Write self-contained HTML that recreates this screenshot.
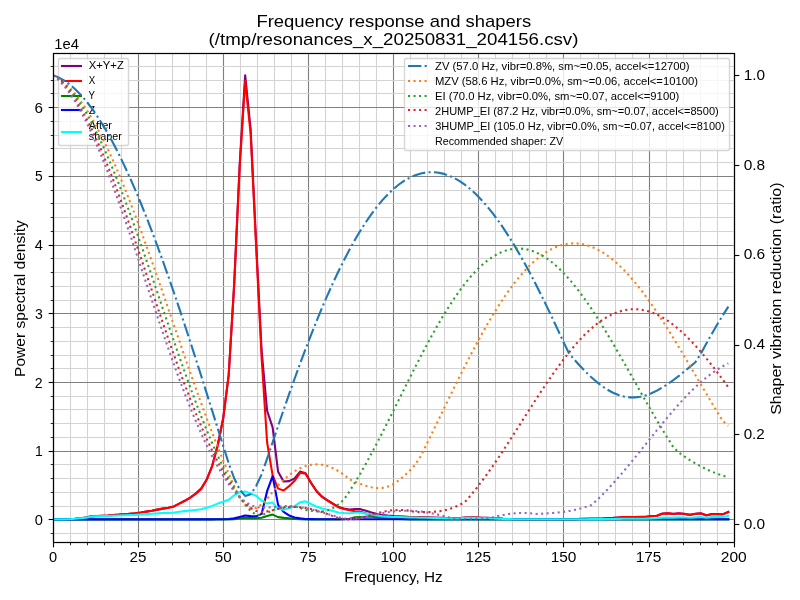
<!DOCTYPE html>
<html lang="en"><head><meta charset="utf-8"><title>Frequency response and shapers</title>
<style>html,body{margin:0;padding:0;background:#fff}body{width:800px;height:600px;overflow:hidden}svg{display:block;will-change:transform}text{font-family:"Liberation Sans",sans-serif;fill:#000}</style>
</head><body>
<svg width="800" height="600" viewBox="0 0 800 600">
<defs><clipPath id="axclip"><rect x="53" y="52.99" width="680.64" height="488.62"/></clipPath></defs>
<rect x="0" y="0" width="800" height="600" fill="#ffffff"/>
<g id="grid">
<line x1="53.5" y1="52.99" x2="53.5" y2="541.61" stroke="#808080" stroke-width="1.11"/>
<line x1="138.5" y1="52.99" x2="138.5" y2="541.61" stroke="#808080" stroke-width="1.11"/>
<line x1="223.5" y1="52.99" x2="223.5" y2="541.61" stroke="#808080" stroke-width="1.11"/>
<line x1="308.5" y1="52.99" x2="308.5" y2="541.61" stroke="#808080" stroke-width="1.11"/>
<line x1="393.5" y1="52.99" x2="393.5" y2="541.61" stroke="#808080" stroke-width="1.11"/>
<line x1="478.5" y1="52.99" x2="478.5" y2="541.61" stroke="#808080" stroke-width="1.11"/>
<line x1="563.5" y1="52.99" x2="563.5" y2="541.61" stroke="#808080" stroke-width="1.11"/>
<line x1="649.5" y1="52.99" x2="649.5" y2="541.61" stroke="#808080" stroke-width="1.11"/>
<line x1="734.5" y1="52.99" x2="734.5" y2="541.61" stroke="#808080" stroke-width="1.11"/>
<line x1="70.5" y1="52.99" x2="70.5" y2="541.61" stroke="#d3d3d3" stroke-width="1.11"/>
<line x1="87.5" y1="52.99" x2="87.5" y2="541.61" stroke="#d3d3d3" stroke-width="1.11"/>
<line x1="104.5" y1="52.99" x2="104.5" y2="541.61" stroke="#d3d3d3" stroke-width="1.11"/>
<line x1="121.5" y1="52.99" x2="121.5" y2="541.61" stroke="#d3d3d3" stroke-width="1.11"/>
<line x1="155.5" y1="52.99" x2="155.5" y2="541.61" stroke="#d3d3d3" stroke-width="1.11"/>
<line x1="172.5" y1="52.99" x2="172.5" y2="541.61" stroke="#d3d3d3" stroke-width="1.11"/>
<line x1="189.5" y1="52.99" x2="189.5" y2="541.61" stroke="#d3d3d3" stroke-width="1.11"/>
<line x1="206.5" y1="52.99" x2="206.5" y2="541.61" stroke="#d3d3d3" stroke-width="1.11"/>
<line x1="240.5" y1="52.99" x2="240.5" y2="541.61" stroke="#d3d3d3" stroke-width="1.11"/>
<line x1="257.5" y1="52.99" x2="257.5" y2="541.61" stroke="#d3d3d3" stroke-width="1.11"/>
<line x1="274.5" y1="52.99" x2="274.5" y2="541.61" stroke="#d3d3d3" stroke-width="1.11"/>
<line x1="291.5" y1="52.99" x2="291.5" y2="541.61" stroke="#d3d3d3" stroke-width="1.11"/>
<line x1="325.5" y1="52.99" x2="325.5" y2="541.61" stroke="#d3d3d3" stroke-width="1.11"/>
<line x1="342.5" y1="52.99" x2="342.5" y2="541.61" stroke="#d3d3d3" stroke-width="1.11"/>
<line x1="359.5" y1="52.99" x2="359.5" y2="541.61" stroke="#d3d3d3" stroke-width="1.11"/>
<line x1="376.5" y1="52.99" x2="376.5" y2="541.61" stroke="#d3d3d3" stroke-width="1.11"/>
<line x1="410.5" y1="52.99" x2="410.5" y2="541.61" stroke="#d3d3d3" stroke-width="1.11"/>
<line x1="427.5" y1="52.99" x2="427.5" y2="541.61" stroke="#d3d3d3" stroke-width="1.11"/>
<line x1="444.5" y1="52.99" x2="444.5" y2="541.61" stroke="#d3d3d3" stroke-width="1.11"/>
<line x1="461.5" y1="52.99" x2="461.5" y2="541.61" stroke="#d3d3d3" stroke-width="1.11"/>
<line x1="495.5" y1="52.99" x2="495.5" y2="541.61" stroke="#d3d3d3" stroke-width="1.11"/>
<line x1="512.5" y1="52.99" x2="512.5" y2="541.61" stroke="#d3d3d3" stroke-width="1.11"/>
<line x1="529.5" y1="52.99" x2="529.5" y2="541.61" stroke="#d3d3d3" stroke-width="1.11"/>
<line x1="546.5" y1="52.99" x2="546.5" y2="541.61" stroke="#d3d3d3" stroke-width="1.11"/>
<line x1="580.5" y1="52.99" x2="580.5" y2="541.61" stroke="#d3d3d3" stroke-width="1.11"/>
<line x1="598.5" y1="52.99" x2="598.5" y2="541.61" stroke="#d3d3d3" stroke-width="1.11"/>
<line x1="615.5" y1="52.99" x2="615.5" y2="541.61" stroke="#d3d3d3" stroke-width="1.11"/>
<line x1="632.5" y1="52.99" x2="632.5" y2="541.61" stroke="#d3d3d3" stroke-width="1.11"/>
<line x1="666.5" y1="52.99" x2="666.5" y2="541.61" stroke="#d3d3d3" stroke-width="1.11"/>
<line x1="683.5" y1="52.99" x2="683.5" y2="541.61" stroke="#d3d3d3" stroke-width="1.11"/>
<line x1="700.5" y1="52.99" x2="700.5" y2="541.61" stroke="#d3d3d3" stroke-width="1.11"/>
<line x1="717.5" y1="52.99" x2="717.5" y2="541.61" stroke="#d3d3d3" stroke-width="1.11"/>
<line x1="53" y1="519.5" x2="733.64" y2="519.5" stroke="#808080" stroke-width="1.11"/>
<line x1="53" y1="451.5" x2="733.64" y2="451.5" stroke="#808080" stroke-width="1.11"/>
<line x1="53" y1="382.5" x2="733.64" y2="382.5" stroke="#808080" stroke-width="1.11"/>
<line x1="53" y1="313.5" x2="733.64" y2="313.5" stroke="#808080" stroke-width="1.11"/>
<line x1="53" y1="245.5" x2="733.64" y2="245.5" stroke="#808080" stroke-width="1.11"/>
<line x1="53" y1="176.5" x2="733.64" y2="176.5" stroke="#808080" stroke-width="1.11"/>
<line x1="53" y1="107.5" x2="733.64" y2="107.5" stroke="#808080" stroke-width="1.11"/>
<line x1="53" y1="533.5" x2="733.64" y2="533.5" stroke="#d3d3d3" stroke-width="1.11"/>
<line x1="53" y1="506.5" x2="733.64" y2="506.5" stroke="#d3d3d3" stroke-width="1.11"/>
<line x1="53" y1="492.5" x2="733.64" y2="492.5" stroke="#d3d3d3" stroke-width="1.11"/>
<line x1="53" y1="478.5" x2="733.64" y2="478.5" stroke="#d3d3d3" stroke-width="1.11"/>
<line x1="53" y1="464.5" x2="733.64" y2="464.5" stroke="#d3d3d3" stroke-width="1.11"/>
<line x1="53" y1="437.5" x2="733.64" y2="437.5" stroke="#d3d3d3" stroke-width="1.11"/>
<line x1="53" y1="423.5" x2="733.64" y2="423.5" stroke="#d3d3d3" stroke-width="1.11"/>
<line x1="53" y1="409.5" x2="733.64" y2="409.5" stroke="#d3d3d3" stroke-width="1.11"/>
<line x1="53" y1="396.5" x2="733.64" y2="396.5" stroke="#d3d3d3" stroke-width="1.11"/>
<line x1="53" y1="368.5" x2="733.64" y2="368.5" stroke="#d3d3d3" stroke-width="1.11"/>
<line x1="53" y1="355.5" x2="733.64" y2="355.5" stroke="#d3d3d3" stroke-width="1.11"/>
<line x1="53" y1="341.5" x2="733.64" y2="341.5" stroke="#d3d3d3" stroke-width="1.11"/>
<line x1="53" y1="327.5" x2="733.64" y2="327.5" stroke="#d3d3d3" stroke-width="1.11"/>
<line x1="53" y1="300.5" x2="733.64" y2="300.5" stroke="#d3d3d3" stroke-width="1.11"/>
<line x1="53" y1="286.5" x2="733.64" y2="286.5" stroke="#d3d3d3" stroke-width="1.11"/>
<line x1="53" y1="272.5" x2="733.64" y2="272.5" stroke="#d3d3d3" stroke-width="1.11"/>
<line x1="53" y1="258.5" x2="733.64" y2="258.5" stroke="#d3d3d3" stroke-width="1.11"/>
<line x1="53" y1="231.5" x2="733.64" y2="231.5" stroke="#d3d3d3" stroke-width="1.11"/>
<line x1="53" y1="217.5" x2="733.64" y2="217.5" stroke="#d3d3d3" stroke-width="1.11"/>
<line x1="53" y1="203.5" x2="733.64" y2="203.5" stroke="#d3d3d3" stroke-width="1.11"/>
<line x1="53" y1="190.5" x2="733.64" y2="190.5" stroke="#d3d3d3" stroke-width="1.11"/>
<line x1="53" y1="162.5" x2="733.64" y2="162.5" stroke="#d3d3d3" stroke-width="1.11"/>
<line x1="53" y1="148.5" x2="733.64" y2="148.5" stroke="#d3d3d3" stroke-width="1.11"/>
<line x1="53" y1="135.5" x2="733.64" y2="135.5" stroke="#d3d3d3" stroke-width="1.11"/>
<line x1="53" y1="121.5" x2="733.64" y2="121.5" stroke="#d3d3d3" stroke-width="1.11"/>
<line x1="53" y1="93.5" x2="733.64" y2="93.5" stroke="#d3d3d3" stroke-width="1.11"/>
<line x1="53" y1="80.5" x2="733.64" y2="80.5" stroke="#d3d3d3" stroke-width="1.11"/>
<line x1="53" y1="66.5" x2="733.64" y2="66.5" stroke="#d3d3d3" stroke-width="1.11"/>
</g>
<g id="ticks">
<line x1="53.5" y1="542.5" x2="53.5" y2="547.36" stroke="#000" stroke-width="1.11"/>
<line x1="138.5" y1="542.5" x2="138.5" y2="547.36" stroke="#000" stroke-width="1.11"/>
<line x1="223.5" y1="542.5" x2="223.5" y2="547.36" stroke="#000" stroke-width="1.11"/>
<line x1="308.5" y1="542.5" x2="308.5" y2="547.36" stroke="#000" stroke-width="1.11"/>
<line x1="393.5" y1="542.5" x2="393.5" y2="547.36" stroke="#000" stroke-width="1.11"/>
<line x1="478.5" y1="542.5" x2="478.5" y2="547.36" stroke="#000" stroke-width="1.11"/>
<line x1="563.5" y1="542.5" x2="563.5" y2="547.36" stroke="#000" stroke-width="1.11"/>
<line x1="649.5" y1="542.5" x2="649.5" y2="547.36" stroke="#000" stroke-width="1.11"/>
<line x1="734.5" y1="542.5" x2="734.5" y2="547.36" stroke="#000" stroke-width="1.11"/>
<line x1="70.5" y1="542.5" x2="70.5" y2="545.28" stroke="#000" stroke-width="0.83"/>
<line x1="87.5" y1="542.5" x2="87.5" y2="545.28" stroke="#000" stroke-width="0.83"/>
<line x1="104.5" y1="542.5" x2="104.5" y2="545.28" stroke="#000" stroke-width="0.83"/>
<line x1="121.5" y1="542.5" x2="121.5" y2="545.28" stroke="#000" stroke-width="0.83"/>
<line x1="155.5" y1="542.5" x2="155.5" y2="545.28" stroke="#000" stroke-width="0.83"/>
<line x1="172.5" y1="542.5" x2="172.5" y2="545.28" stroke="#000" stroke-width="0.83"/>
<line x1="189.5" y1="542.5" x2="189.5" y2="545.28" stroke="#000" stroke-width="0.83"/>
<line x1="206.5" y1="542.5" x2="206.5" y2="545.28" stroke="#000" stroke-width="0.83"/>
<line x1="240.5" y1="542.5" x2="240.5" y2="545.28" stroke="#000" stroke-width="0.83"/>
<line x1="257.5" y1="542.5" x2="257.5" y2="545.28" stroke="#000" stroke-width="0.83"/>
<line x1="274.5" y1="542.5" x2="274.5" y2="545.28" stroke="#000" stroke-width="0.83"/>
<line x1="291.5" y1="542.5" x2="291.5" y2="545.28" stroke="#000" stroke-width="0.83"/>
<line x1="325.5" y1="542.5" x2="325.5" y2="545.28" stroke="#000" stroke-width="0.83"/>
<line x1="342.5" y1="542.5" x2="342.5" y2="545.28" stroke="#000" stroke-width="0.83"/>
<line x1="359.5" y1="542.5" x2="359.5" y2="545.28" stroke="#000" stroke-width="0.83"/>
<line x1="376.5" y1="542.5" x2="376.5" y2="545.28" stroke="#000" stroke-width="0.83"/>
<line x1="410.5" y1="542.5" x2="410.5" y2="545.28" stroke="#000" stroke-width="0.83"/>
<line x1="427.5" y1="542.5" x2="427.5" y2="545.28" stroke="#000" stroke-width="0.83"/>
<line x1="444.5" y1="542.5" x2="444.5" y2="545.28" stroke="#000" stroke-width="0.83"/>
<line x1="461.5" y1="542.5" x2="461.5" y2="545.28" stroke="#000" stroke-width="0.83"/>
<line x1="495.5" y1="542.5" x2="495.5" y2="545.28" stroke="#000" stroke-width="0.83"/>
<line x1="512.5" y1="542.5" x2="512.5" y2="545.28" stroke="#000" stroke-width="0.83"/>
<line x1="529.5" y1="542.5" x2="529.5" y2="545.28" stroke="#000" stroke-width="0.83"/>
<line x1="546.5" y1="542.5" x2="546.5" y2="545.28" stroke="#000" stroke-width="0.83"/>
<line x1="580.5" y1="542.5" x2="580.5" y2="545.28" stroke="#000" stroke-width="0.83"/>
<line x1="598.5" y1="542.5" x2="598.5" y2="545.28" stroke="#000" stroke-width="0.83"/>
<line x1="615.5" y1="542.5" x2="615.5" y2="545.28" stroke="#000" stroke-width="0.83"/>
<line x1="632.5" y1="542.5" x2="632.5" y2="545.28" stroke="#000" stroke-width="0.83"/>
<line x1="666.5" y1="542.5" x2="666.5" y2="545.28" stroke="#000" stroke-width="0.83"/>
<line x1="683.5" y1="542.5" x2="683.5" y2="545.28" stroke="#000" stroke-width="0.83"/>
<line x1="700.5" y1="542.5" x2="700.5" y2="545.28" stroke="#000" stroke-width="0.83"/>
<line x1="717.5" y1="542.5" x2="717.5" y2="545.28" stroke="#000" stroke-width="0.83"/>
<line x1="48.64" y1="519.5" x2="53.5" y2="519.5" stroke="#000" stroke-width="1.11"/>
<line x1="48.64" y1="451.5" x2="53.5" y2="451.5" stroke="#000" stroke-width="1.11"/>
<line x1="48.64" y1="382.5" x2="53.5" y2="382.5" stroke="#000" stroke-width="1.11"/>
<line x1="48.64" y1="313.5" x2="53.5" y2="313.5" stroke="#000" stroke-width="1.11"/>
<line x1="48.64" y1="245.5" x2="53.5" y2="245.5" stroke="#000" stroke-width="1.11"/>
<line x1="48.64" y1="176.5" x2="53.5" y2="176.5" stroke="#000" stroke-width="1.11"/>
<line x1="48.64" y1="107.5" x2="53.5" y2="107.5" stroke="#000" stroke-width="1.11"/>
<line x1="50.72" y1="533.5" x2="53.5" y2="533.5" stroke="#000" stroke-width="0.83"/>
<line x1="50.72" y1="506.5" x2="53.5" y2="506.5" stroke="#000" stroke-width="0.83"/>
<line x1="50.72" y1="492.5" x2="53.5" y2="492.5" stroke="#000" stroke-width="0.83"/>
<line x1="50.72" y1="478.5" x2="53.5" y2="478.5" stroke="#000" stroke-width="0.83"/>
<line x1="50.72" y1="464.5" x2="53.5" y2="464.5" stroke="#000" stroke-width="0.83"/>
<line x1="50.72" y1="437.5" x2="53.5" y2="437.5" stroke="#000" stroke-width="0.83"/>
<line x1="50.72" y1="423.5" x2="53.5" y2="423.5" stroke="#000" stroke-width="0.83"/>
<line x1="50.72" y1="409.5" x2="53.5" y2="409.5" stroke="#000" stroke-width="0.83"/>
<line x1="50.72" y1="396.5" x2="53.5" y2="396.5" stroke="#000" stroke-width="0.83"/>
<line x1="50.72" y1="368.5" x2="53.5" y2="368.5" stroke="#000" stroke-width="0.83"/>
<line x1="50.72" y1="355.5" x2="53.5" y2="355.5" stroke="#000" stroke-width="0.83"/>
<line x1="50.72" y1="341.5" x2="53.5" y2="341.5" stroke="#000" stroke-width="0.83"/>
<line x1="50.72" y1="327.5" x2="53.5" y2="327.5" stroke="#000" stroke-width="0.83"/>
<line x1="50.72" y1="300.5" x2="53.5" y2="300.5" stroke="#000" stroke-width="0.83"/>
<line x1="50.72" y1="286.5" x2="53.5" y2="286.5" stroke="#000" stroke-width="0.83"/>
<line x1="50.72" y1="272.5" x2="53.5" y2="272.5" stroke="#000" stroke-width="0.83"/>
<line x1="50.72" y1="258.5" x2="53.5" y2="258.5" stroke="#000" stroke-width="0.83"/>
<line x1="50.72" y1="231.5" x2="53.5" y2="231.5" stroke="#000" stroke-width="0.83"/>
<line x1="50.72" y1="217.5" x2="53.5" y2="217.5" stroke="#000" stroke-width="0.83"/>
<line x1="50.72" y1="203.5" x2="53.5" y2="203.5" stroke="#000" stroke-width="0.83"/>
<line x1="50.72" y1="190.5" x2="53.5" y2="190.5" stroke="#000" stroke-width="0.83"/>
<line x1="50.72" y1="162.5" x2="53.5" y2="162.5" stroke="#000" stroke-width="0.83"/>
<line x1="50.72" y1="148.5" x2="53.5" y2="148.5" stroke="#000" stroke-width="0.83"/>
<line x1="50.72" y1="135.5" x2="53.5" y2="135.5" stroke="#000" stroke-width="0.83"/>
<line x1="50.72" y1="121.5" x2="53.5" y2="121.5" stroke="#000" stroke-width="0.83"/>
<line x1="50.72" y1="93.5" x2="53.5" y2="93.5" stroke="#000" stroke-width="0.83"/>
<line x1="50.72" y1="80.5" x2="53.5" y2="80.5" stroke="#000" stroke-width="0.83"/>
<line x1="50.72" y1="66.5" x2="53.5" y2="66.5" stroke="#000" stroke-width="0.83"/>
<line x1="734.5" y1="524.5" x2="739.36" y2="524.5" stroke="#000" stroke-width="1.11"/>
<line x1="734.5" y1="434.5" x2="739.36" y2="434.5" stroke="#000" stroke-width="1.11"/>
<line x1="734.5" y1="345.5" x2="739.36" y2="345.5" stroke="#000" stroke-width="1.11"/>
<line x1="734.5" y1="255.5" x2="739.36" y2="255.5" stroke="#000" stroke-width="1.11"/>
<line x1="734.5" y1="165.5" x2="739.36" y2="165.5" stroke="#000" stroke-width="1.11"/>
<line x1="734.5" y1="75.5" x2="739.36" y2="75.5" stroke="#000" stroke-width="1.11"/>
</g>
<g id="psd" clip-path="url(#axclip)">
<path d="M53 519.4 L58.49 519.4 L63.98 519.4 L69.47 519.26 L74.96 518.78 L80.45 518.16 L85.94 517.55 L91.43 516.38 L96.92 516.03 L102.41 515.76 L107.9 515.55 L113.39 515 L118.88 514.66 L124.37 514.18 L129.87 513.77 L135.36 513.29 L140.85 512.53 L146.34 511.64 L151.83 510.81 L157.32 509.64 L162.81 508.61 L168.3 507.65 L173.79 506.42 L179.28 503.67 L184.77 500.78 L190.26 497.62 L195.75 493.64 L201.24 488.62 L206.73 479.56 L212.22 465.82 L217.71 445.34 L223.2 418.28 L228.69 374.79 L234.18 283.84 L239.67 164.37 L245.16 75.2 L250.65 129.4 L256.14 242.48 L261.63 350.75 L267.12 410.79 L272.62 427.34 L278.11 471.86 L283.6 481.55 L289.09 481.14 L294.58 478.32 L300.07 471.59 L305.56 473.17 L311.05 482.78 L316.54 491.03 L322.03 496.66 L327.52 500.37 L333.01 503.74 L338.5 507.03 L343.99 508.61 L349.48 509.44 L354.97 508.96 L360.46 509.16 L365.95 510.81 L371.44 512.53 L376.93 513.97 L382.42 515 L387.91 515.62 L393.4 516.1 L398.89 516.31 L404.38 516.62 L409.87 516.95 L415.37 517.06 L420.86 517.23 L426.35 517.39 L431.84 517.56 L437.33 517.72 L442.82 517.89 L448.31 518.05 L453.8 518.16 L459.29 518.05 L464.78 517.61 L470.27 517.34 L475.76 517.45 L481.25 517.72 L486.74 517.89 L492.23 518.05 L497.72 518.27 L503.21 518.71 L508.7 518.93 L514.19 519.19 L519.68 519.19 L525.17 519.19 L530.66 519.19 L536.15 519.19 L541.64 519.19 L547.13 519.19 L552.62 519.19 L558.12 519.19 L563.61 519.19 L569.1 519.19 L574.59 519.19 L580.08 518.85 L585.57 518.71 L591.06 518.64 L596.55 518.58 L602.04 518.44 L607.53 518.16 L613.02 517.89 L618.51 517.48 L624 517 L629.49 516.93 L634.98 516.93 L640.47 516.86 L645.96 516.72 L651.45 516.1 L656.94 515.69 L662.43 513.56 L667.92 513.22 L673.41 513.9 L678.9 513.29 L684.39 513.9 L689.88 514.73 L695.37 513.77 L700.87 513.29 L706.36 515.28 L711.85 514.04 L717.34 514.11 L722.83 514.25 L728.32 511.98" fill="none" stroke="#800080" stroke-width="2.08" stroke-linejoin="round" stroke-linecap="square"/>
<path d="M53 519.4 L58.49 519.4 L63.98 519.4 L69.47 519.26 L74.96 518.78 L80.45 518.16 L85.94 517.55 L91.43 516.38 L96.92 516.03 L102.41 515.76 L107.9 515.55 L113.39 515 L118.88 514.66 L124.37 514.18 L129.87 513.77 L135.36 513.29 L140.85 512.53 L146.34 511.64 L151.83 510.81 L157.32 509.64 L162.81 508.61 L168.3 507.65 L173.79 506.42 L179.28 503.67 L184.77 500.78 L190.26 497.62 L195.75 493.64 L201.24 488.62 L206.73 479.56 L212.22 465.82 L217.71 445.48 L223.2 418.41 L228.69 375.13 L234.18 285.14 L239.67 167.67 L245.16 80.7 L250.65 134.01 L256.14 246.67 L261.63 357.96 L267.12 442.46 L272.62 475.43 L278.11 488.62 L283.6 490.55 L289.09 486.15 L294.58 480.79 L300.07 472.82 L305.56 473.65 L311.05 483.06 L316.54 491.17 L322.03 496.8 L327.52 500.51 L333.01 503.87 L338.5 507.17 L343.99 509.03 L349.48 510.26 L354.97 511.16 L360.46 511.71 L365.95 513.56 L371.44 515.28 L376.93 516.31 L382.42 516.65 L387.91 516.79 L393.4 516.93 L398.89 516.93 L404.38 517.04 L409.87 517.09 L415.37 517.2 L420.86 517.37 L426.35 517.53 L431.84 517.7 L437.33 517.86 L442.82 518.03 L448.31 518.19 L453.8 518.3 L459.29 518.19 L464.78 517.75 L470.27 517.48 L475.76 517.59 L481.25 517.86 L486.74 518.03 L492.23 518.19 L497.72 518.41 L503.21 518.85 L508.7 519.07 L514.19 519.33 L519.68 519.33 L525.17 519.33 L530.66 519.33 L536.15 519.33 L541.64 519.33 L547.13 519.33 L552.62 519.33 L558.12 519.33 L563.61 519.33 L569.1 519.33 L574.59 519.33 L580.08 518.99 L585.57 518.85 L591.06 518.78 L596.55 518.71 L602.04 518.58 L607.53 518.3 L613.02 518.03 L618.51 517.61 L624 517.13 L629.49 517.06 L634.98 517.06 L640.47 517 L645.96 516.86 L651.45 516.24 L656.94 515.83 L662.43 513.7 L667.92 513.35 L673.41 514.04 L678.9 513.42 L684.39 514.04 L689.88 514.87 L695.37 513.9 L700.87 513.42 L706.36 515.42 L711.85 514.18 L717.34 514.25 L722.83 514.39 L728.32 512.12" fill="none" stroke="#ff0000" stroke-width="2.08" stroke-linejoin="round" stroke-linecap="square"/>
<path d="M53 519.4 L58.49 519.4 L63.98 519.4 L69.47 519.4 L74.96 519.4 L80.45 519.4 L85.94 519.4 L91.43 519.4 L96.92 519.4 L102.41 519.4 L107.9 519.4 L113.39 519.4 L118.88 519.4 L124.37 519.4 L129.87 519.4 L135.36 519.4 L140.85 519.4 L146.34 519.4 L151.83 519.4 L157.32 519.4 L162.81 519.4 L168.3 519.4 L173.79 519.4 L179.28 519.4 L184.77 519.4 L190.26 519.4 L195.75 519.4 L201.24 519.4 L206.73 519.4 L212.22 519.4 L217.71 519.4 L223.2 519.4 L228.69 519.4 L234.18 519.13 L239.67 518.58 L245.16 517.89 L250.65 518.09 L256.14 518.23 L261.63 517.68 L267.12 515.9 L272.62 514.59 L278.11 517.13 L283.6 517.89 L289.09 518.37 L294.58 518.92 L300.07 519.19 L305.56 519.4 L311.05 519.4 L316.54 519.4 L322.03 519.4 L327.52 519.4 L333.01 519.4 L338.5 519.4 L343.99 519.13 L349.48 518.71 L354.97 517.34 L360.46 517 L365.95 516.79 L371.44 516.79 L376.93 517.2 L382.42 517.89 L387.91 518.37 L393.4 518.71 L398.89 518.92 L404.38 519.13 L409.87 519.4 L415.37 519.4 L420.86 519.4 L426.35 519.4 L431.84 519.4 L437.33 519.4 L442.82 519.4 L448.31 519.4 L453.8 519.4 L459.29 519.4 L464.78 519.4 L470.27 519.4 L475.76 519.4 L481.25 519.4 L486.74 519.4 L492.23 519.4 L497.72 519.4 L503.21 519.4 L508.7 519.4 L514.19 519.4 L519.68 519.4 L525.17 519.4 L530.66 519.4 L536.15 519.4 L541.64 519.4 L547.13 519.4 L552.62 519.4 L558.12 519.4 L563.61 519.4 L569.1 519.4 L574.59 519.4 L580.08 519.4 L585.57 519.4 L591.06 519.4 L596.55 519.4 L602.04 519.4 L607.53 519.4 L613.02 519.4 L618.51 519.4 L624 519.4 L629.49 519.4 L634.98 519.4 L640.47 519.4 L645.96 519.4 L651.45 519.4 L656.94 519.4 L662.43 519.4 L667.92 519.4 L673.41 519.4 L678.9 519.4 L684.39 519.4 L689.88 519.4 L695.37 519.4 L700.87 519.4 L706.36 519.4 L711.85 519.4 L717.34 519.4 L722.83 519.4 L728.32 519.4" fill="none" stroke="#008000" stroke-width="2.08" stroke-linejoin="round" stroke-linecap="square"/>
<path d="M53 519.4 L58.49 519.4 L63.98 519.4 L69.47 519.4 L74.96 519.4 L80.45 519.4 L85.94 519.4 L91.43 519.4 L96.92 519.4 L102.41 519.4 L107.9 519.4 L113.39 519.4 L118.88 519.4 L124.37 519.4 L129.87 519.4 L135.36 519.4 L140.85 519.4 L146.34 519.4 L151.83 519.4 L157.32 519.4 L162.81 519.4 L168.3 519.4 L173.79 519.4 L179.28 519.4 L184.77 519.4 L190.26 519.4 L195.75 519.4 L201.24 519.4 L206.73 519.4 L212.22 519.4 L217.71 519.26 L223.2 519.26 L228.69 519.06 L234.18 518.37 L239.67 516.93 L245.16 515.42 L250.65 516.1 L256.14 516.38 L261.63 513.9 L267.12 491.23 L272.62 476.12 L278.11 504.9 L283.6 511.91 L289.09 515.42 L294.58 517.41 L300.07 518.37 L305.56 518.92 L311.05 519.13 L316.54 519.26 L322.03 519.26 L327.52 519.26 L333.01 519.26 L338.5 519.26 L343.99 519.26 L349.48 519.26 L354.97 519.26 L360.46 519.26 L365.95 519.26 L371.44 519.26 L376.93 519.26 L382.42 519.26 L387.91 519.26 L393.4 519.26 L398.89 519.26 L404.38 519.26 L409.87 519.26 L415.37 519.26 L420.86 519.26 L426.35 519.26 L431.84 519.26 L437.33 519.26 L442.82 519.26 L448.31 519.26 L453.8 519.26 L459.29 519.26 L464.78 519.26 L470.27 519.26 L475.76 519.26 L481.25 519.26 L486.74 519.26 L492.23 519.26 L497.72 519.26 L503.21 519.26 L508.7 519.26 L514.19 519.26 L519.68 519.26 L525.17 519.26 L530.66 519.26 L536.15 519.26 L541.64 519.26 L547.13 519.26 L552.62 519.26 L558.12 519.26 L563.61 519.26 L569.1 519.26 L574.59 519.26 L580.08 519.26 L585.57 519.26 L591.06 519.26 L596.55 519.26 L602.04 519.26 L607.53 519.26 L613.02 519.26 L618.51 519.26 L624 519.26 L629.49 519.26 L634.98 519.26 L640.47 519.26 L645.96 519.26 L651.45 519.26 L656.94 519.26 L662.43 519.26 L667.92 519.26 L673.41 519.26 L678.9 519.26 L684.39 519.26 L689.88 519.26 L695.37 519.26 L700.87 519.26 L706.36 519.26 L711.85 519.26 L717.34 519.26 L722.83 519.26 L728.32 519.26" fill="none" stroke="#0000ff" stroke-width="2.08" stroke-linejoin="round" stroke-linecap="square"/>
<path d="M53 519.4 L58.49 519.4 L63.98 519.4 L69.47 519.27 L74.96 518.8 L80.45 518.22 L85.94 517.65 L91.43 516.6 L96.92 516.34 L102.41 516.16 L107.9 516.05 L113.39 515.67 L118.88 515.49 L124.37 515.23 L129.87 515.05 L135.36 514.85 L140.85 514.49 L146.34 514.09 L151.83 513.79 L157.32 513.35 L162.81 513.07 L168.3 512.91 L173.79 512.69 L179.28 511.84 L184.77 511.14 L190.26 510.55 L195.75 509.91 L201.24 509.24 L206.73 507.79 L212.22 505.87 L217.71 503.6 L223.2 501.76 L228.69 499.76 L234.18 495.29 L239.67 492 L245.16 491.42 L250.65 493.44 L256.14 495.82 L261.63 500.68 L267.12 503.55 L272.62 502.6 L278.11 509 L283.6 509.77 L289.09 508.32 L294.58 506.09 L300.07 502.31 L305.56 501.37 L311.05 503.96 L316.54 506.57 L322.03 508.44 L327.52 509.69 L333.01 510.98 L338.5 512.43 L343.99 513.06 L349.48 513.31 L354.97 512.79 L360.46 512.71 L365.95 513.62 L371.44 514.65 L376.93 515.56 L382.42 516.23 L387.91 516.62 L393.4 516.94 L398.89 517.06 L404.38 517.28 L409.87 517.51 L415.37 517.58 L420.86 517.7 L426.35 517.83 L431.84 517.96 L437.33 518.09 L442.82 518.22 L448.31 518.35 L453.8 518.45 L459.29 518.37 L464.78 518.05 L470.27 517.86 L475.76 517.97 L481.25 518.19 L486.74 518.33 L492.23 518.47 L497.72 518.64 L503.21 518.95 L508.7 519.1 L514.19 519.27 L519.68 519.28 L525.17 519.28 L530.66 519.29 L536.15 519.29 L541.64 519.3 L547.13 519.3 L552.62 519.31 L558.12 519.31 L563.61 519.32 L569.1 519.32 L574.59 519.32 L580.08 519.21 L585.57 519.17 L591.06 519.15 L596.55 519.14 L602.04 519.1 L607.53 519.03 L613.02 518.96 L618.51 518.85 L624 518.72 L629.49 518.7 L634.98 518.7 L640.47 518.68 L645.96 518.63 L651.45 518.44 L656.94 518.3 L662.43 517.62 L667.92 517.47 L673.41 517.64 L678.9 517.38 L684.39 517.53 L689.88 517.76 L695.37 517.37 L700.87 517.08 L706.36 517.74 L711.85 517.13 L717.34 517.05 L722.83 517 L728.32 515.81" fill="none" stroke="#00ffff" stroke-width="2.08" stroke-linejoin="round" stroke-linecap="square"/>
</g>
<rect x="53.5" y="53.5" width="681" height="489" fill="none" stroke="#000" stroke-width="1.111"/>
<g id="legend-left">
<rect x="58.5" y="58.5" width="70" height="87" rx="1.93" ry="1.93" fill="#ffffff" fill-opacity="0.8" stroke="#cccccc" stroke-opacity="0.8" stroke-width="1.389"/>
<path d="M62 66 L81 66" fill="none" stroke="#800080" stroke-width="2.08" stroke-linejoin="round" stroke-linecap="square"/>
<path d="M62 81 L81 81" fill="none" stroke="#ff0000" stroke-width="2.08" stroke-linejoin="round" stroke-linecap="square"/>
<path d="M62 96 L81 96" fill="none" stroke="#008000" stroke-width="2.08" stroke-linejoin="round" stroke-linecap="square"/>
<path d="M62 110 L81 110" fill="none" stroke="#0000ff" stroke-width="2.08" stroke-linejoin="round" stroke-linecap="square"/>
<path d="M62 132 L81 132" fill="none" stroke="#00ffff" stroke-width="2.08" stroke-linejoin="round" stroke-linecap="square"/>
<text x="88.69" y="69" font-size="11" textLength="35.09" lengthAdjust="spacingAndGlyphs">X+Y+Z</text>
<text x="88.73" y="84" font-size="11" textLength="6.46" lengthAdjust="spacingAndGlyphs">X</text>
<text x="88.43" y="99" font-size="11" textLength="6.46" lengthAdjust="spacingAndGlyphs">Y</text>
<text x="88.78" y="114" font-size="11" textLength="6.37" lengthAdjust="spacingAndGlyphs">Z</text>
<text x="88.73" y="129" font-size="11" textLength="23.24" lengthAdjust="spacingAndGlyphs">After</text>
<text x="88.87" y="140" font-size="11" textLength="32.96" lengthAdjust="spacingAndGlyphs">shaper</text>
</g>
<g id="shapers" clip-path="url(#axclip)">
<path d="M53 75.2 L58.49 77.37 L63.98 80.39 L69.47 84.24 L74.96 88.93 L80.45 94.43 L85.94 100.72 L91.43 107.8 L96.92 115.65 L102.41 124.24 L107.9 133.55 L113.39 143.56 L118.88 154.25 L124.37 165.59 L129.87 177.55 L135.36 190.11 L140.85 203.24 L146.34 216.91 L151.83 231.08 L157.32 245.74 L162.81 260.83 L168.3 276.34 L173.79 292.22 L179.28 308.45 L184.77 324.98 L190.26 341.78 L195.75 358.81 L201.24 376.03 L206.73 393.4 L212.22 410.87 L217.71 428.39 L223.2 445.88 L228.69 463.23 L234.18 478.26 L239.67 489.56 L245.16 495.93 L250.65 494.33 L256.14 485.98 L261.63 474.38 L267.12 458.7 L272.62 442.28 L278.11 426 L283.6 409.95 L289.09 394.19 L294.58 378.77 L300.07 363.72 L305.56 349.07 L311.05 334.86 L316.54 321.11 L322.03 307.85 L327.52 295.1 L333.01 282.89 L338.5 271.24 L343.99 260.16 L349.48 249.68 L354.97 239.81 L360.46 230.57 L365.95 221.98 L371.44 214.04 L376.93 206.76 L382.42 200.16 L387.91 194.25 L393.4 189.03 L398.89 184.51 L404.38 180.68 L409.87 177.57 L415.37 175.15 L420.86 173.44 L426.35 172.44 L431.84 172.14 L437.33 172.53 L442.82 173.61 L448.31 175.37 L453.8 177.8 L459.29 180.9 L464.78 184.65 L470.27 189.03 L475.76 194.05 L481.25 199.67 L486.74 205.88 L492.23 212.66 L497.72 220 L503.21 227.87 L508.7 236.26 L514.19 245.13 L519.68 254.46 L525.17 264.24 L530.66 274.42 L536.15 284.99 L541.64 295.9 L547.13 307.13 L552.62 318.63 L558.12 330.38 L563.61 342.33 L569.1 353.59 L574.59 359.92 L580.08 365.97 L585.57 371.68 L591.06 376.99 L596.55 381.81 L602.04 386.09 L607.53 389.76 L613.02 392.76 L618.51 395.05 L624 396.59 L629.49 397.38 L634.98 397.4 L640.47 396.69 L645.96 395.28 L651.45 393.24 L656.94 390.62 L662.43 387.49 L667.92 383.94 L673.41 380.03 L678.9 375.84 L684.39 371.42 L689.88 366.86 L695.37 362.19 L700.87 353.55 L706.36 343.51 L711.85 333.76 L717.34 324.35 L722.83 315.31 L728.32 306.66" fill="none" stroke="#1f77b4" stroke-width="2.08" stroke-linejoin="round" stroke-dasharray="13.33 3.33 2.08 3.33" stroke-linecap="butt"/>
<path d="M53 75.2 L58.49 78.23 L63.98 82.31 L69.47 87.42 L74.96 93.53 L80.45 100.61 L85.94 108.64 L91.43 117.56 L96.92 127.34 L102.41 137.93 L107.9 149.3 L113.39 161.37 L118.88 174.11 L124.37 187.46 L129.87 201.35 L135.36 215.74 L140.85 230.55 L146.34 245.73 L151.83 261.2 L157.32 276.92 L162.81 292.81 L168.3 308.8 L173.79 324.84 L179.28 340.85 L184.77 356.78 L190.26 372.56 L195.75 388.12 L201.24 403.41 L206.73 418.37 L212.22 432.92 L217.71 447.02 L223.2 460.6 L228.69 473.59 L234.18 485.89 L239.67 497.22 L245.16 504.34 L250.65 508.35 L256.14 508.03 L261.63 504.42 L267.12 498.86 L272.62 491.82 L278.11 485.46 L283.6 479.88 L289.09 475.13 L294.58 471.23 L300.07 468.19 L305.56 466.03 L311.05 464.74 L316.54 464.33 L322.03 464.77 L327.52 466.06 L333.01 468.18 L338.5 471.11 L343.99 474.82 L349.48 479.28 L354.97 481.69 L360.46 483.88 L365.95 485.84 L371.44 487.34 L376.93 488.09 L382.42 487.87 L387.91 486.51 L393.4 483.97 L398.89 480.34 L404.38 475.77 L409.87 470.44 L415.37 464.5 L420.86 455.86 L426.35 444.75 L431.84 433.51 L437.33 422.2 L442.82 410.86 L448.31 399.55 L453.8 388.32 L459.29 377.22 L464.78 366.3 L470.27 355.61 L475.76 345.19 L481.25 335.09 L486.74 325.34 L492.23 316 L497.72 307.09 L503.21 298.65 L508.7 290.71 L514.19 283.32 L519.68 276.48 L525.17 270.24 L530.66 264.6 L536.15 259.6 L541.64 255.25 L547.13 251.56 L552.62 248.54 L558.12 246.2 L563.61 244.55 L569.1 243.59 L574.59 243.31 L580.08 243.72 L585.57 244.8 L591.06 246.54 L596.55 248.94 L602.04 251.98 L607.53 255.64 L613.02 259.89 L618.51 264.73 L624 270.11 L629.49 276.01 L634.98 282.41 L640.47 289.27 L645.96 296.56 L651.45 304.24 L656.94 312.28 L662.43 320.63 L667.92 329.26 L673.41 338.13 L678.9 347.18 L684.39 356.39 L689.88 365.7 L695.37 375.06 L700.87 384.44 L706.36 393.77 L711.85 403.01 L717.34 412.11 L722.83 421 L728.32 425.61" fill="none" stroke="#ff7f0e" stroke-width="2.08" stroke-linejoin="round" stroke-dasharray="2.08 3.44" stroke-linecap="butt"/>
<path d="M53 75.2 L58.49 78.64 L63.98 83.24 L69.47 88.97 L74.96 95.79 L80.45 103.68 L85.94 112.57 L91.43 122.43 L96.92 133.19 L102.41 144.8 L107.9 157.2 L113.39 170.32 L118.88 184.09 L124.37 198.44 L129.87 213.29 L135.36 228.57 L140.85 244.19 L146.34 260.09 L151.83 276.17 L157.32 292.37 L162.81 308.59 L168.3 324.76 L173.79 340.81 L179.28 356.65 L184.77 372.2 L190.26 387.41 L195.75 402.18 L201.24 416.46 L206.73 430.17 L212.22 443.26 L217.71 455.66 L223.2 467.3 L228.69 478.13 L234.18 488.06 L239.67 497 L245.16 504.78 L250.65 511.01 L256.14 514.77 L261.63 515.02 L267.12 512.9 L272.62 510.35 L278.11 508.25 L283.6 506.88 L289.09 506.36 L294.58 506.72 L300.07 507.97 L305.56 509.87 L311.05 510.78 L316.54 511.51 L322.03 511.56 L327.52 510.44 L333.01 507.96 L338.5 504.29 L343.99 499.54 L349.48 491.36 L354.97 482.61 L360.46 473.35 L365.95 463.65 L371.44 453.57 L376.93 443.17 L382.42 432.51 L387.91 421.67 L393.4 410.7 L398.89 399.66 L404.38 388.62 L409.87 377.65 L415.37 366.79 L420.86 356.12 L426.35 345.69 L431.84 335.56 L437.33 325.78 L442.82 316.4 L448.31 307.47 L453.8 299.03 L459.29 291.14 L464.78 283.83 L470.27 277.13 L475.76 271.07 L481.25 265.69 L486.74 261.02 L492.23 257.06 L497.72 253.83 L503.21 251.36 L508.7 249.64 L514.19 248.69 L519.68 248.49 L525.17 249.05 L530.66 250.36 L536.15 252.41 L541.64 255.17 L547.13 258.64 L552.62 262.79 L558.12 267.59 L563.61 273.01 L569.1 279.02 L574.59 285.58 L580.08 292.67 L585.57 300.22 L591.06 308.21 L596.55 316.59 L602.04 325.32 L607.53 334.33 L613.02 343.6 L618.51 353.06 L624 362.66 L629.49 372.36 L634.98 382.11 L640.47 391.85 L645.96 401.53 L651.45 411.09 L656.94 420.5 L662.43 429.7 L667.92 438.63 L673.41 447.25 L678.9 452.55 L684.39 456.44 L689.88 460.07 L695.37 463.41 L700.87 466.47 L706.36 469.22 L711.85 471.68 L717.34 473.83 L722.83 475.7 L728.32 477.28" fill="none" stroke="#2ca02c" stroke-width="2.08" stroke-linejoin="round" stroke-dasharray="2.08 3.44" stroke-linecap="butt"/>
<path d="M53 75.2 L58.49 79.33 L63.98 84.69 L69.47 91.25 L74.96 98.97 L80.45 107.79 L85.94 117.66 L91.43 128.51 L96.92 140.28 L102.41 152.88 L107.9 166.25 L113.39 180.29 L118.88 194.93 L124.37 210.08 L129.87 225.65 L135.36 241.54 L140.85 257.67 L146.34 273.96 L151.83 290.29 L157.32 306.6 L162.81 322.8 L168.3 338.8 L173.79 354.51 L179.28 369.87 L184.77 384.8 L190.26 399.24 L195.75 413.11 L201.24 426.35 L206.73 438.92 L212.22 450.76 L217.71 461.82 L223.2 472.05 L228.69 481.39 L234.18 489.78 L239.67 497.13 L245.16 503.28 L250.65 507.99 L256.14 510.91 L261.63 511.89 L267.12 511.38 L272.62 510.17 L278.11 508.88 L283.6 507.83 L289.09 507.18 L294.58 506.98 L300.07 507.23 L305.56 507.91 L311.05 508.98 L316.54 510.4 L322.03 512.11 L327.52 514.04 L333.01 516.11 L338.5 518.18 L343.99 519.08 L349.48 519.4 L354.97 519.13 L360.46 518.39 L365.95 516.63 L371.44 514.82 L376.93 513.21 L382.42 511.85 L387.91 510.83 L393.4 510.17 L398.89 509.93 L404.38 510.13 L409.87 510.81 L415.37 511.98 L420.86 512.14 L426.35 512.15 L431.84 512 L437.33 511.55 L442.82 510.69 L448.31 509.33 L453.8 507.45 L459.29 505.08 L464.78 502.19 L470.27 495.89 L475.76 489.17 L481.25 482.06 L486.74 474.6 L492.23 466.82 L497.72 458.78 L503.21 450.52 L508.7 442.09 L514.19 433.53 L519.68 424.89 L525.17 416.24 L530.66 407.61 L536.15 399.06 L541.64 390.65 L547.13 382.41 L552.62 374.42 L558.12 366.7 L563.61 359.31 L569.1 352.29 L574.59 345.69 L580.08 339.54 L585.57 333.88 L591.06 328.74 L596.55 324.15 L602.04 320.14 L607.53 316.73 L613.02 313.94 L618.51 311.77 L624 310.24 L629.49 309.36 L634.98 309.13 L640.47 309.54 L645.96 310.58 L651.45 312.26 L656.94 314.54 L662.43 317.41 L667.92 320.86 L673.41 324.85 L678.9 329.35 L684.39 334.34 L689.88 339.78 L695.37 345.64 L700.87 351.87 L706.36 358.44 L711.85 365.3 L717.34 372.41 L722.83 379.73 L728.32 387.21" fill="none" stroke="#d62728" stroke-width="2.08" stroke-linejoin="round" stroke-dasharray="2.08 3.44" stroke-linecap="butt"/>
<path d="M53 75.2 L58.49 79.82 L63.98 85.72 L69.47 92.87 L74.96 101.21 L80.45 110.68 L85.94 121.21 L91.43 132.74 L96.92 145.18 L102.41 158.46 L107.9 172.47 L113.39 187.14 L118.88 202.37 L124.37 218.06 L129.87 234.11 L135.36 250.42 L140.85 266.91 L146.34 283.46 L151.83 300 L157.32 316.41 L162.81 332.62 L168.3 348.53 L173.79 364.08 L179.28 379.16 L184.77 393.73 L190.26 407.7 L195.75 421.02 L201.24 433.62 L206.73 445.46 L212.22 456.47 L217.71 466.61 L223.2 475.82 L228.69 484.04 L234.18 491.19 L239.67 497.17 L245.16 501.86 L250.65 505.13 L256.14 507 L261.63 507.67 L267.12 507.57 L272.62 507.12 L278.11 506.64 L283.6 506.33 L289.09 506.3 L294.58 506.58 L300.07 507.19 L305.56 508.1 L311.05 509.29 L316.54 510.7 L322.03 512.28 L327.52 513.95 L333.01 515.63 L338.5 517.18 L343.99 518.39 L349.48 518.97 L354.97 518.75 L360.46 517.89 L365.95 516.71 L371.44 515.43 L376.93 514.2 L382.42 513.1 L387.91 512.18 L393.4 511.48 L398.89 511 L404.38 510.77 L409.87 510.79 L415.37 511.06 L420.86 511.57 L426.35 512.31 L431.84 513.27 L437.33 514.42 L442.82 515.75 L448.31 517.21 L453.8 518.08 L459.29 518.47 L464.78 518.71 L470.27 518.77 L475.76 518.64 L481.25 518.34 L486.74 517.91 L492.23 517.4 L497.72 516.11 L503.21 514.98 L508.7 514.07 L514.19 513.41 L519.68 513.05 L525.17 513 L530.66 513.28 L536.15 513.94 L541.64 513.68 L547.13 513.38 L552.62 513.01 L558.12 512.53 L563.61 511.88 L569.1 511.02 L574.59 509.93 L580.08 508.59 L585.57 506.99 L591.06 505.15 L596.55 500.47 L602.04 495.1 L607.53 489.42 L613.02 483.46 L618.51 477.26 L624 470.84 L629.49 464.26 L634.98 457.54 L640.47 450.74 L645.96 443.88 L651.45 437.02 L656.94 430.2 L662.43 423.46 L667.92 416.84 L673.41 410.4 L678.9 404.16 L684.39 398.17 L689.88 392.48 L695.37 387.1 L700.87 382.09 L706.36 377.47 L711.85 373.28 L717.34 369.53 L722.83 366.25 L728.32 363.46" fill="none" stroke="#9467bd" stroke-width="2.08" stroke-linejoin="round" stroke-dasharray="2.08 3.44" stroke-linecap="butt"/>
</g>
<rect x="53.5" y="53.5" width="681" height="489" fill="none" stroke="#000" stroke-width="1.111"/>
<g id="labels">
<text x="256.44" y="27" font-size="17" textLength="274.72" lengthAdjust="spacingAndGlyphs">Frequency response and shapers</text>
<text x="208.6" y="45" font-size="17" textLength="369.84" lengthAdjust="spacingAndGlyphs">(/tmp/resonances_x_20250831_204156.csv)</text>
<text x="344.3" y="581.89" font-size="14.6" textLength="98.35" lengthAdjust="spacingAndGlyphs">Frequency, Hz</text>
<text x="24.92" y="377.05" font-size="14.6" textLength="156.88" lengthAdjust="spacingAndGlyphs" transform="rotate(-90 24.85 377.05)">Power spectral density</text>
<text x="781.11" y="414.99" font-size="14.6" textLength="232.26" lengthAdjust="spacingAndGlyphs" transform="rotate(-90 780.92 414.99)">Shaper vibration reduction (ratio)</text>
<text x="54.27" y="48.82" font-size="14.6" textLength="24.61" lengthAdjust="spacingAndGlyphs">1e4</text>
<text x="48.97" y="562.33" font-size="14.6" textLength="8.13" lengthAdjust="spacingAndGlyphs">0</text>
<text x="129.59" y="562.33" font-size="14.6" textLength="16.82" lengthAdjust="spacingAndGlyphs">25</text>
<text x="214.87" y="562.33" font-size="14.6" textLength="16.86" lengthAdjust="spacingAndGlyphs">50</text>
<text x="299.86" y="562.33" font-size="14.6" textLength="16.7" lengthAdjust="spacingAndGlyphs">75</text>
<text x="380.49" y="562.33" font-size="14.6" textLength="25.81" lengthAdjust="spacingAndGlyphs">100</text>
<text x="465.58" y="562.33" font-size="14.6" textLength="25.54" lengthAdjust="spacingAndGlyphs">125</text>
<text x="550.65" y="562.33" font-size="14.6" textLength="25.81" lengthAdjust="spacingAndGlyphs">150</text>
<text x="635.74" y="562.33" font-size="14.6" textLength="25.54" lengthAdjust="spacingAndGlyphs">175</text>
<text x="720.75" y="562.33" font-size="14.6" textLength="25.93" lengthAdjust="spacingAndGlyphs">200</text>
<text x="34.87" y="524.9" font-size="14.6" textLength="8.13" lengthAdjust="spacingAndGlyphs">0</text>
<text x="34.88" y="456.2" font-size="14.6" textLength="7.75" lengthAdjust="spacingAndGlyphs">1</text>
<text x="34.84" y="387.5" font-size="14.6" textLength="7.83" lengthAdjust="spacingAndGlyphs">2</text>
<text x="35.05" y="318.81" font-size="14.6" textLength="7.82" lengthAdjust="spacingAndGlyphs">3</text>
<text x="34.86" y="250.11" font-size="14.6" textLength="8.15" lengthAdjust="spacingAndGlyphs">4</text>
<text x="35.05" y="181.41" font-size="14.6" textLength="7.67" lengthAdjust="spacingAndGlyphs">5</text>
<text x="34.59" y="112.71" font-size="14.6" textLength="8.44" lengthAdjust="spacingAndGlyphs">6</text>
<text x="743.67" y="528.71" font-size="14.6" textLength="21.43" lengthAdjust="spacingAndGlyphs">0.0</text>
<text x="743.68" y="438.91" font-size="14.6" textLength="21.11" lengthAdjust="spacingAndGlyphs">0.2</text>
<text x="743.67" y="349.11" font-size="14.6" textLength="21.43" lengthAdjust="spacingAndGlyphs">0.4</text>
<text x="743.67" y="259.31" font-size="14.6" textLength="21.57" lengthAdjust="spacingAndGlyphs">0.6</text>
<text x="743.67" y="169.5" font-size="14.6" textLength="21.47" lengthAdjust="spacingAndGlyphs">0.8</text>
<text x="743.73" y="79.7" font-size="14.6" textLength="21.38" lengthAdjust="spacingAndGlyphs">1.0</text>
</g>
<g id="legend-right">
<rect x="404.5" y="58.5" width="325" height="92" rx="1.93" ry="1.93" fill="#ffffff" fill-opacity="0.8" stroke="#cccccc" stroke-opacity="0.8" stroke-width="1.389"/>
<path d="M408 66 L427.2 66" fill="none" stroke="#1f77b4" stroke-width="2.08" stroke-linejoin="round" stroke-dasharray="13.33 3.33 2.08 3.33" stroke-linecap="butt"/>
<path d="M408 81 L427.2 81" fill="none" stroke="#ff7f0e" stroke-width="2.08" stroke-linejoin="round" stroke-dasharray="2.08 3.44" stroke-linecap="butt"/>
<path d="M408 96 L427.2 96" fill="none" stroke="#2ca02c" stroke-width="2.08" stroke-linejoin="round" stroke-dasharray="2.08 3.44" stroke-linecap="butt"/>
<path d="M408 110 L427.2 110" fill="none" stroke="#d62728" stroke-width="2.08" stroke-linejoin="round" stroke-dasharray="2.08 3.44" stroke-linecap="butt"/>
<path d="M408 126 L427.2 126" fill="none" stroke="#9467bd" stroke-width="2.08" stroke-linejoin="round" stroke-dasharray="2.08 3.44" stroke-linecap="butt"/>
<text x="434.99" y="70" font-size="11" textLength="254.66" lengthAdjust="spacingAndGlyphs">ZV (57.0 Hz, vibr=0.8%, sm~=0.05, accel&lt;=12700)</text>
<text x="434.93" y="85" font-size="11" textLength="263.06" lengthAdjust="spacingAndGlyphs">MZV (58.6 Hz, vibr=0.0%, sm~=0.06, accel&lt;=10100)</text>
<text x="434.93" y="100" font-size="11" textLength="244.28" lengthAdjust="spacingAndGlyphs">EI (70.0 Hz, vibr=0.0%, sm~=0.07, accel&lt;=9100)</text>
<text x="435.06" y="115" font-size="11" textLength="283.66" lengthAdjust="spacingAndGlyphs">2HUMP_EI (87.2 Hz, vibr=0.0%, sm~=0.07, accel&lt;=8500)</text>
<text x="435.21" y="130" font-size="11" textLength="289.66" lengthAdjust="spacingAndGlyphs">3HUMP_EI (105.0 Hz, vibr=0.0%, sm~=0.07, accel&lt;=8100)</text>
<text x="434.97" y="145" font-size="11" textLength="128.27" lengthAdjust="spacingAndGlyphs">Recommended shaper: ZV</text>
</g>
</svg>
</body></html>
